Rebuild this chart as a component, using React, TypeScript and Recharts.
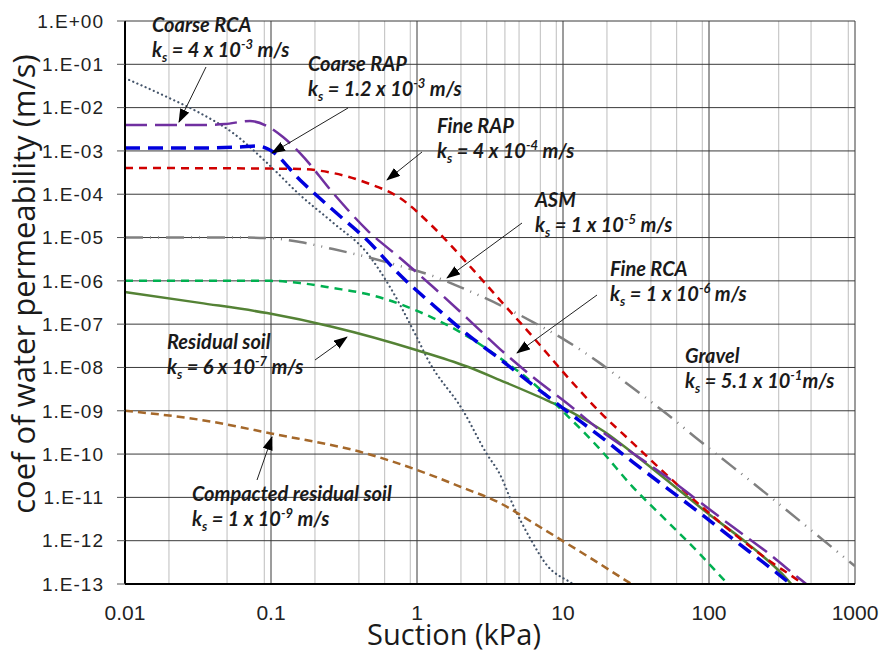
import React from 'react';
import { LineChart, Line, XAxis, YAxis, CartesianGrid } from 'recharts';

// ---- axes ----
const xTicks = [0.01, 0.1, 1, 10, 100, 1000];
const xTickLabels = ['0.01', '0.1', '1', '10', '100', '1000'];
const yTicks = [1e-13, 1e-12, 1e-11, 1e-10, 1e-9, 1e-8, 1e-7, 1e-6, 1e-5, 1e-4, 1e-3, 1e-2, 1e-1, 1];
const minorX = [
  0.02, 0.03, 0.04, 0.05, 0.06, 0.07, 0.08, 0.09,
  0.2, 0.3, 0.4, 0.5, 0.6, 0.7, 0.8, 0.9,
  2, 3, 4, 5, 6, 7, 8, 9,
  20, 30, 40, 50, 60, 70, 80, 90,
  200, 300, 400, 500, 600, 700, 800, 900,
];

// ---- series (suction kPa, permeability m/s) ----
const gravelX = [0.01, 0.0194, 0.0326, 0.0549, 0.0939, 0.158, 0.266, 0.455, 0.653, 0.98, 1.19, 2.07, 3.01, 3.7, 4.55, 5.94, 7.77, 11.2, 14];
const gravelY = [4.8e-2, 1.76e-2, 7.5e-3, 2.6e-3, 5.3e-4, 9.6e-5, 2.2e-5, 4.4e-6, 7.2e-7, 5.6e-8, 1.5e-8, 1.0e-9, 1.0e-10, 3.4e-11, 6.6e-12, 1.15e-12, 2.7e-13, 1.1e-13, 7e-14];

const coarseRcaX = [0.01, 0.0326, 0.0484, 0.0718, 0.094, 0.1208, 0.158, 0.266, 0.455, 0.765, 1.29, 2.2, 3.7, 6.23, 10.6, 17.9, 30.1, 51.5, 86.7, 146, 249, 420, 492];
const coarseRcaY = [3.96e-3, 3.96e-3, 4.18e-3, 4.9e-3, 3.76e-3, 2.09e-3, 8.95e-4, 1.07e-4, 1.49e-5, 3.36e-6, 7.2e-7, 1.38e-7, 2.66e-8, 6.0e-9, 1.51e-9, 3.58e-10, 1.05e-10, 2.94e-11, 7.79e-12, 2.06e-12, 5.45e-13, 1.3e-13, 8.5e-14];

const coarseRapX = [0.01, 0.0326, 0.0613, 0.0815, 0.0984, 0.158, 0.266, 0.455, 0.765, 1.29, 2.2, 3.7, 6.23, 10.6, 17.9, 30.1, 51.5, 86.7, 146, 249, 357, 420];
const coarseRapY = [1.17e-3, 1.17e-3, 1.23e-3, 1.3e-3, 1.05e-3, 2.13e-4, 4.31e-5, 8.75e-6, 1.36e-6, 2.76e-7, 5.9e-8, 1.56e-8, 3.92e-9, 9.84e-10, 2.6e-10, 6.53e-11, 1.64e-11, 4.34e-12, 1.09e-12, 2.73e-13, 1.05e-13, 6.9e-14];

const fineRapX = [0.01, 0.094, 0.158, 0.266, 0.455, 0.765, 1.29, 2.2, 3.7, 6.23, 10.6, 17.9, 30.1, 51.5, 86.7, 146, 249, 420, 492];
const fineRapY = [4.03e-4, 3.92e-4, 3.82e-4, 3.09e-4, 1.82e-4, 8.17e-5, 1.75e-5, 2.58e-6, 3.6e-7, 5.04e-8, 6.33e-9, 9.33e-10, 1.79e-10, 3.27e-11, 6.64e-12, 1.5e-12, 3.76e-13, 1.11e-13, 7.2e-14];

const asmX = [0.01, 0.0613, 0.0984, 0.158, 0.266, 0.455, 0.765, 1.29, 2.2, 3.7, 6.23, 10.6, 17.9, 30.1, 51.5, 86.7, 146, 249, 420, 706, 1000];
const asmY = [1e-5, 1e-5, 9.7e-6, 7.87e-6, 5.42e-6, 3.55e-6, 2.2e-6, 1.29e-6, 6.13e-7, 2.76e-7, 1.12e-7, 4.07e-8, 1.26e-8, 3.35e-9, 8.4e-10, 2.0e-10, 5.0e-11, 1.19e-11, 2.84e-12, 6.75e-13, 2.59e-13];

const fineRcaX = [0.01, 0.0984, 0.158, 0.266, 0.455, 0.765, 1.29, 2.2, 3.7, 6.23, 10.6, 17.9, 30.1, 51.5, 86.7, 133, 151];
const fineRcaY = [1e-6, 1e-6, 8.9e-7, 6.82e-7, 4.96e-7, 2.91e-7, 1.38e-7, 5.31e-8, 1.65e-8, 4.36e-9, 7.96e-10, 1.3e-10, 1.73e-11, 2.84e-12, 4.91e-13, 1.05e-13, 6.9e-14];

const residualX = [0.01, 0.0326, 0.094, 0.266, 1.0, 2.2, 3.7, 8.1, 10.6, 14.6, 20, 30.1, 51.5, 97, 182, 342, 400];
const residualY = [5.5e-7, 3.1e-7, 1.8e-7, 8.6e-8, 2.5e-8, 1.05e-8, 5.1e-9, 1.63e-9, 1.06e-9, 5.8e-10, 3.0e-10, 1.05e-10, 2.5e-11, 4.4e-12, 8.8e-13, 1.3e-13, 7e-14];

const compactedX = [0.01, 0.0326, 0.1, 0.455, 1.0, 2.0, 3.7, 6.23, 10, 17.9, 28.8, 33];
const compactedY = [1e-9, 6.2e-10, 3.0e-10, 1.02e-10, 4.3e-11, 1.74e-11, 7.4e-12, 2.6e-12, 9.8e-13, 2.9e-13, 1.05e-13, 8e-14];

const zip = (xs: number[], ys: number[]) => xs.map((x, i) => ({ x, y: ys[i] }));

const series = [
  { name: 'Gravel', data: zip(gravelX, gravelY), color: '#44546A', width: 2.2, dash: '0.1 4.4', cap: 'round' },
  { name: 'ASM', data: zip(asmX, asmY), color: '#808080', width: 2.5, dash: '18 7 1 7 1 7', cap: 'butt' },
  { name: 'Compacted residual soil', data: zip(compactedX, compactedY), color: '#A5682A', width: 2.5, dash: '8 5', cap: 'butt' },
  { name: 'Residual soil', data: zip(residualX, residualY), color: '#548235', width: 2.5, dash: undefined, cap: 'butt' },
  { name: 'Fine RCA', data: zip(fineRcaX, fineRcaY), color: '#00B050', width: 2.5, dash: '8 6', cap: 'butt' },
  { name: 'Fine RAP', data: zip(fineRapX, fineRapY), color: '#D00000', width: 2.5, dash: '8 6', cap: 'butt' },
  { name: 'Coarse RCA', data: zip(coarseRcaX, coarseRcaY), color: '#7030A0', width: 2.5, dash: '22 8', cap: 'butt' },
  { name: 'Coarse RAP', data: zip(coarseRapX, coarseRapY), color: '#0000DD', width: 3.5, dash: '15 8', cap: 'butt' },
];

const yFmt = (v: number) => {
  const e = Math.round(Math.log10(v));
  return `1.E${e >= 0 ? '+' : '-'}${String(Math.abs(e)).padStart(2, '0')}`;
};
const xFmt = (v: number) => {
  const i = xTicks.findIndex((t) => Math.abs(Math.log10(t) - Math.log10(v)) < 1e-6);
  return i >= 0 ? xTickLabels[i] : String(v);
};

// ---- annotations ----
const annFont: React.CSSProperties = {
  fontFamily: 'Lato, "Open Sans", sans-serif',
  fontWeight: 700,
  fontStyle: 'italic',
  fontSize: 20,
  fill: '#1a1a1a',
};

const labels = [
  { name: 'Coarse RCA', x: 152, y: 32, mant: '4', exp: '-3', sep: ' ' },
  { name: 'Coarse RAP', x: 308, y: 71, mant: '1.2', exp: '-3', sep: ' ' },
  { name: 'Fine RAP', x: 437, y: 133, mant: '4', exp: '-4', sep: ' ' },
  { name: 'ASM', x: 535, y: 207, mant: '1', exp: '-5', sep: ' ' },
  { name: 'Fine RCA', x: 610, y: 276, mant: '1', exp: '-6', sep: ' ' },
  { name: 'Gravel', x: 685, y: 363, mant: '5.1', exp: '-1', sep: '' },
  { name: 'Residual soil', x: 167, y: 349, mant: '6', exp: '-7', sep: ' ' },
  { name: 'Compacted residual soil', x: 192, y: 501, mant: '1', exp: '-9', sep: ' ' },
];

const arrows = [
  [206, 67, 179, 122],
  [348, 108, 272, 153],
  [422, 152, 387, 180],
  [522, 223, 447, 278],
  [597, 295, 517, 353],
  [315, 360, 347, 337],
  [257, 480, 272, 437],
];

function Annotation({ name, x, y, mant, exp, sep }: any) {
  return (
    <g style={annFont}>
      <text x={x} y={y}>{name}</text>
      <text x={x} y={y + 25}>
        k<tspan dy={5} fontSize={13}>s</tspan>
        <tspan dy={-5}>{` = ${mant} x 10`}</tspan>
        <tspan dy={-8} fontSize={13}>{exp}</tspan>
        <tspan dy={8}>{`${sep}m/s`}</tspan>
      </text>
    </g>
  );
}

export default function App() {
  return (
    <div style={{ position: 'absolute', left: 0, top: 0, width: 883, height: 652, background: '#fff' }}>
      <LineChart width={883} height={652} margin={{ top: 21, right: 28, bottom: 8, left: 0 }}>
        <CartesianGrid verticalValues={minorX} horizontal={false} stroke="#C8C8C8" strokeWidth={1.2} />
        <CartesianGrid verticalValues={xTicks} horizontalValues={yTicks} stroke="#3a3a3a" strokeWidth={1} />
        <XAxis
          type="number"
          dataKey="x"
          scale="log"
          domain={[0.01, 1000]}
          allowDataOverflow
          ticks={xTicks}
          tickFormatter={xFmt}
          axisLine={{ stroke: '#000', strokeWidth: 2 }}
          tickLine={false}
          tickSize={6}
          tickMargin={15}
          height={60}
          tick={{ fontFamily: '"Liberation Sans", Arial, sans-serif', fontSize: 21, fill: '#222' }}
        />
        <YAxis
          type="number"
          dataKey="y"
          scale="log"
          domain={[1e-13, 1]}
          allowDataOverflow
          ticks={yTicks}
          interval={0}
          tickFormatter={yFmt}
          width={125}
          axisLine={{ stroke: '#000', strokeWidth: 2 }}
          tickLine={{ stroke: '#555', strokeWidth: 1 }}
          tickSize={8}
          tickMargin={13}
          tick={{ fontFamily: '"Liberation Sans", Arial, sans-serif', fontSize: 19, fill: '#222', letterSpacing: 1 }}
        />
        {series.map((s) => (
          <Line
            key={s.name}
            name={s.name}
            data={s.data}
            dataKey="y"
            type="monotone"
            stroke={s.color}
            strokeWidth={s.width}
            strokeDasharray={s.dash}
            strokeLinecap={s.cap as any}
            dot={false}
            activeDot={false}
            isAnimationActive={false}
          />
        ))}
      </LineChart>
      <svg width={883} height={652} style={{ position: 'absolute', left: 0, top: 0, pointerEvents: 'none' }}>
        <defs>
          <marker id="arrowHead" markerUnits="userSpaceOnUse" markerWidth={14} markerHeight={12} refX={13} refY={5} orient="auto">
            <path d="M0,0 L14,5 L0,10 Z" fill="#000" />
          </marker>
        </defs>
        {arrows.map((a, i) => (
          <line key={i} x1={a[0]} y1={a[1]} x2={a[2]} y2={a[3]} stroke="#222" strokeWidth={1} markerEnd="url(#arrowHead)" />
        ))}
        {labels.map((l) => (
          <Annotation key={l.name} {...l} />
        ))}
        <text x={454} y={645} textAnchor="middle" style={{ fontFamily: '"Open Sans", sans-serif', fontSize: 29, fill: '#1a1a1a' }}>
          Suction (kPa)
        </text>
        <text
          transform="translate(35 284) rotate(-90)"
          textAnchor="middle"
          style={{ fontFamily: '"Open Sans", sans-serif', fontSize: 31, fill: '#1a1a1a' }}
        >
          coef of water permeability (m/s)
        </text>
      </svg>
    </div>
  );
}
